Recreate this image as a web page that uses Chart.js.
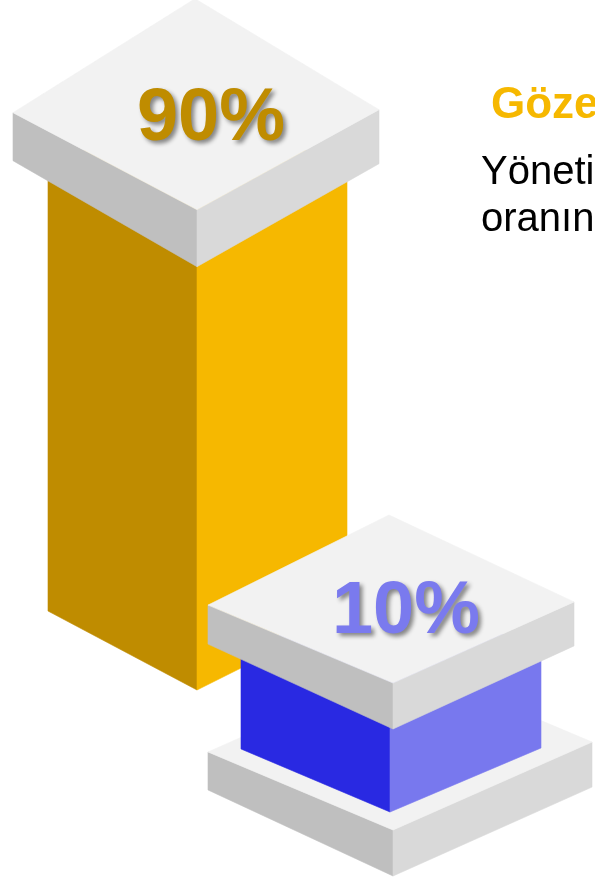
<!DOCTYPE html>
<html lang="tr">
<head>
<meta charset="utf-8">
<title>Oranlar</title>
<script src="https://cdn.jsdelivr.net/npm/chart.js@4/dist/chart.umd.min.js"></script>
<style>
  html, body { margin: 0; padding: 0; background: #ffffff; }
  body { width: 595px; height: 880px; position: relative; overflow: hidden; }
  #chart { position: absolute; left: 0; top: 0; }
  .side { position: absolute; white-space: nowrap; font-family: "Liberation Sans", Arial, sans-serif; }
  #heading { left: 491px; top: 81px; font-size: 44px; line-height: 44px; font-weight: bold; color: #f6b800; }
  #note { left: 481px; top: 147px; font-size: 40px; line-height: 47px; color: #000000; }
</style>
</head>
<body>
<canvas id="chart" width="595" height="880"></canvas>
<div id="heading" class="side">Gözetim</div>
<div id="note" class="side">Yönetim<br>oranının</div>
<script>
// Two groups and their shares (percent)
const categories = ['Birinci grup', 'İkinci grup'];
const shares = [90, 10];

// Face colours of the isometric blocks
const greyFaces = { top: '#f2f2f2', left: '#bfbfbf', right: '#d9d9d9' };
const goldFaces = { top: '#f6b800', left: '#bf8c00', right: '#f6b800' };
const blueFaces = { top: '#7878ee', left: '#2929e2', right: '#7878ee' };
const labelColors = ['#bf8c00', '#7a7aee'];

// Draws a box seen from the front corner; (x, y) is the bottom front vertex
function drawBox(ctx, x, y, g, faces) {
  const B0 = [x, y];
  const BL = [x - g.hl, y - g.hl * g.sl];
  const BR = [x + g.hr, y - g.hr * g.sr];
  const T0 = [x, y - g.tf];
  const TL = [BL[0], BL[1] - g.tl];
  const TR = [BR[0], BR[1] - g.tr];
  const TB = [TL[0] + TR[0] - T0[0], TL[1] + TR[1] - T0[1] - (g.lift || 0)];
  const face = (pts, color) => {
    ctx.beginPath();
    ctx.moveTo(pts[0][0], pts[0][1]);
    for (let k = 1; k < pts.length; k++) ctx.lineTo(pts[k][0], pts[k][1]);
    ctx.closePath();
    ctx.fillStyle = color;
    ctx.strokeStyle = color;
    ctx.lineWidth = 0.6;
    ctx.fill();
    ctx.stroke();
  };
  face([BL, B0, T0, TL], faces.left);
  face([B0, BR, TR, T0], faces.right);
  face([T0, TL, TB, TR], faces.top);
  return { TL, TR, T0, TB };
}

const isoBars = {
  id: 'isoBars',
  beforeDatasetsDraw(chart, args, opts) {
    const ctx = chart.ctx;
    const yScale = chart.scales.y;
    const meta = chart.getDatasetMeta(0);
    meta.data.forEach((bar, i) => {
      const s = opts.styles[i];
      const h = yScale.bottom - bar.y;          // column length from the scale floor
      const fx = bar.x;
      const fy = yScale.bottom + s.drop;        // bottom front vertex of the column
      ctx.save();
      if (s.plinth) {
        drawBox(ctx, fx + s.plinth.dx, fy + s.plinth.dy, s.plinth, greyFaces);
      }
      drawBox(ctx, fx, fy, Object.assign({}, s.column, { tf: h, tl: h, tr: h }), s.faces);
      const cap = drawBox(ctx, fx + s.cap.dx, fy - h + s.cap.dy, s.cap, greyFaces);
      // value label on the cap
      const cx = (cap.TL[0] + cap.TR[0]) / 2 + 15;
      const cy = (cap.TL[1] + cap.TR[1]) / 2 + 29;
      ctx.font = 'bold 74px "Liberation Sans", Arial, sans-serif';
      ctx.textAlign = 'center';
      ctx.textBaseline = 'alphabetic';
      ctx.shadowColor = 'rgba(0,0,0,0.45)';
      ctx.shadowBlur = 4;
      ctx.shadowOffsetX = 3;
      ctx.shadowOffsetY = 3;
      ctx.fillStyle = labelColors[i];
      ctx.fillText(shares[i] + '%', cx, cy);
      ctx.restore();
    });
    return false;
  }
};

new Chart(document.getElementById('chart'), {
  type: 'bar',
  data: {
    labels: categories,
    datasets: [{ data: shares, backgroundColor: 'rgba(0,0,0,0)' }]
  },
  options: {
    responsive: false,
    animation: false,
    layout: { padding: { top: 204, bottom: 190, left: 100.5, right: 108.5 } },
    scales: {
      x: { display: false },
      y: { display: false, min: -12.5, max: 100 }
    },
    plugins: {
      legend: { display: false },
      tooltip: { enabled: false },
      isoBars: {
        styles: [
          {
            drop: 0,
            faces: goldFaces,
            column: { hl: 149, hr: 150, sl: 0.53, sr: 0.5 },
            cap: { dx: 0, dy: 19.5, hl: 184, hr: 182, sl: 0.576, sr: 0.566, tf: 57, tl: 48, tr: 54, lift: 14 }
          },
          {
            drop: 122,
            faces: blueFaces,
            column: { hl: 149, hr: 151, sl: 0.423, sr: 0.424 },
            cap: { dx: 3, dy: 14.2, hl: 185, hr: 181, sl: 0.459, sr: 0.459, tf: 46, tl: 39, tr: 44, lift: 9 },
            plinth: { dx: 3, dy: 64, hl: 185, hr: 199, sl: 0.465, sr: 0.447, tf: 46, tl: 38, tr: 45, lift: 0 }
          }
        ]
      }
    }
  },
  plugins: [isoBars]
});
</script>
</body>
</html>
